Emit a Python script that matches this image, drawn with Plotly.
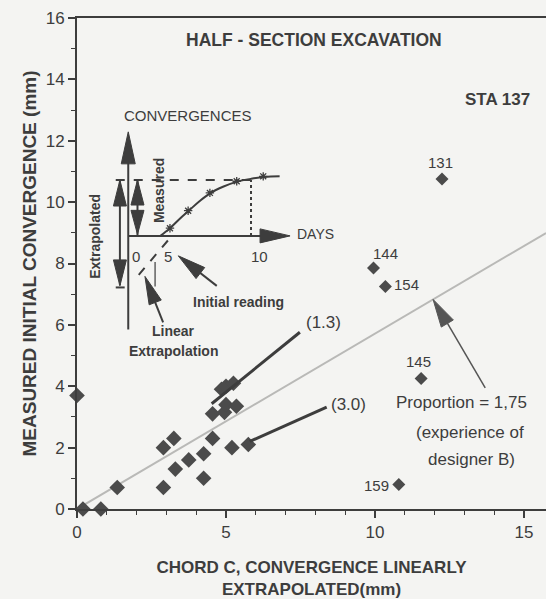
import math
import plotly.graph_objects as go

# Chord C: convergence linearly extrapolated (mm) vs measured initial convergence (mm)
chord_mm = [0.0, 0.2, 0.8, 1.35, 2.9, 2.9, 3.25, 3.3, 3.75, 4.25, 4.25,
            4.55, 4.55, 4.85, 5.0, 5.25, 4.95, 5.0, 5.35, 5.2, 5.75]
measured_mm = [3.7, 0.0, 0.0, 0.7, 0.7, 2.0, 2.3, 1.3, 1.6, 1.8, 1.0,
               2.3, 3.1, 3.9, 4.0, 4.1, 3.15, 3.4, 3.35, 2.0, 2.1]

# Individually labelled stations
station_chord = [12.25, 9.95, 10.35, 11.55, 10.8]
station_measured = [10.75, 7.85, 7.25, 4.25, 0.8]
station_names = ["131", "144", "154", "145", "159"]

proportion = 1.75

# Convergence-vs-time sketch, expressed in the main axes' units
sketch_curve_x = [2.8, 3.1, 3.45, 3.75, 4.1, 4.45, 4.9, 5.35, 5.85, 6.3, 6.8]
sketch_curve_y = [8.9, 9.13, 9.46, 9.72, 10.02, 10.28, 10.5, 10.66, 10.76, 10.82, 10.84]
sketch_marks_x = [3.12, 3.73, 4.46, 5.36, 6.25]
sketch_marks_y = [9.15, 9.72, 10.3, 10.68, 10.84]
sketch_day_labels = ["0", "5", "10"]
sketch_day_x = [1.98, 3.06, 6.14]

W, H = 546, 599
ML, MR, MT, MB = 77, 0, 18, 90
X_MAX, Y_MAX = 15.74, 16.0
PX_X = (W - ML - MR) / X_MAX
PX_Y = (H - MT - MB) / Y_MAX

INK = "#3d3d3d"
BG = "#f4f4f2"
FONT = "Liberation Sans, Arial, sans-serif"

fig = go.Figure()

# reference proportion line
fig.add_trace(go.Scatter(
    x=[0, X_MAX], y=[0, X_MAX / proportion], mode="lines",
    line=dict(color="#b9b9b7", width=2), hoverinfo="skip", showlegend=False))

fig.add_trace(go.Scatter(
    x=chord_mm, y=measured_mm, mode="markers", cliponaxis=False,
    marker=dict(symbol="diamond", size=12, color="#4b4b4b"),
    showlegend=False))

fig.add_trace(go.Scatter(
    x=station_chord, y=station_measured, mode="markers", cliponaxis=False,
    marker=dict(symbol="diamond", size=10, color="#4b4b4b"),
    showlegend=False))

# sketch curve
fig.add_trace(go.Scatter(
    x=sketch_curve_x, y=sketch_curve_y, mode="lines",
    line=dict(color=INK, width=2, shape="spline"), hoverinfo="skip", showlegend=False))
fig.add_trace(go.Scatter(
    x=sketch_marks_x, y=sketch_marks_y, mode="markers",
    marker=dict(symbol="asterisk-open", size=7, color=INK, line=dict(width=1.3, color=INK)),
    hoverinfo="skip", showlegend=False))

shapes = []


def seg(x0, y0, x1, y1, width=2, dash=None, color=INK):
    shapes.append(dict(type="line", xref="x", yref="y", x0=x0, y0=y0, x1=x1, y1=y1,
                       line=dict(color=color, width=width, dash=dash)))


def head(tip, tail, length=26, width=12, color=INK):
    """Filled arrowhead whose point is at `tip`, oriented away from `tail`."""
    dx = (tail[0] - tip[0]) * PX_X
    dy = (tail[1] - tip[1]) * PX_Y
    n = math.hypot(dx, dy)
    ux, uy = dx / n, dy / n
    bx, by = ux * length, uy * length
    px, py = -uy * width / 2, ux * width / 2
    pts = [(0, 0), (bx + px, by + py), (bx - px, by - py)]
    coords = [(tip[0] + a / PX_X, tip[1] + b / PX_Y) for a, b in pts]
    path = "M " + " L ".join(f"{x:.4f},{y:.4f}" for x, y in coords) + " Z"
    shapes.append(dict(type="path", xref="x", yref="y", path=path,
                       fillcolor=color, line=dict(color=color, width=1)))


# sketch axes
AX_X, AX_Y = 1.72, 8.9
seg(AX_X, 5.85, AX_X, 12.0, width=2)
head((AX_X, 12.29), (AX_X, 5.85), length=32, width=14)
seg(AX_X, AX_Y, 6.9, AX_Y, width=2)
head((7.15, AX_Y), (AX_X, AX_Y), length=30, width=14)

# extrapolated / measured double arrows
TOP = 10.72
seg(1.3, TOP, 5.84, TOP, width=2, dash="dash")
seg(5.84, AX_Y, 5.84, TOP, width=2, dash="dot")
seg(1.44, 7.3, 1.44, TOP, width=2)
head((1.44, TOP), (1.44, 7.27), length=26, width=13)
head((1.44, 7.27), (1.44, TOP), length=26, width=13)
seg(1.3, 7.22, 1.6, 7.22, width=2)
seg(2.03, AX_Y, 2.03, TOP, width=2)
head((2.03, TOP), (2.03, AX_Y), length=25, width=13)
head((2.03, AX_Y + 0.05), (2.03, TOP), length=24, width=13)

# linear extrapolation back to day 0
seg(3.05, 8.75, 2.0, 7.55, width=2, dash="dash")
seg(2.62, 7.25, 2.62, 8.05, width=1.2)

# pointers
seg(4.69, 7.27, 3.6, 8.1, width=2)
head((3.4, 8.25), (4.69, 7.27), length=28, width=14)
seg(2.89, 6.08, 2.35, 7.4, width=2)
head((2.28, 7.58), (2.89, 6.08), length=28, width=13)
seg(13.7, 3.95, 12.1, 6.6, width=1.5, color="#555555")
head((11.95, 6.83), (13.7, 3.95), length=28, width=14, color="#555555")

# leaders to the (1.3) and (3.0) groups
seg(4.52, 3.43, 7.48, 5.76, width=3)
seg(5.8, 2.2, 8.38, 3.32, width=3)

annotations = []


def label(text, x, y, size=16, bold=False, angle=0, xanchor="center", yanchor="middle"):
    if bold:
        text = f"<b>{text}</b>"
    annotations.append(dict(text=text, x=x, y=y, xref="x", yref="y", showarrow=False,
                            textangle=angle, xanchor=xanchor, yanchor=yanchor,
                            font=dict(family=FONT, size=size, color=INK)))


label("HALF - SECTION EXCAVATION", 7.94, 15.27, size=17.5, bold=True)
label("STA 137", 14.1, 13.33, size=17, bold=True)
label("CONVERGENCES", 3.72, 12.82, size=15)
label("DAYS", 7.33, 8.95, size=14, xanchor="left")
for t, x in zip(sketch_day_labels, sketch_day_x):
    label(t, x, 8.24, size=15)
label("Extrapolated", 0.6, 8.9, size=14, bold=True, angle=-90)
label("Measured", 2.73, 10.37, size=14, bold=True, angle=-90)
label("Initial reading", 5.41, 6.74, size=14, bold=True)
label("Linear", 3.23, 5.8, size=14, bold=True)
label("Extrapolation", 3.23, 5.14, size=14, bold=True)
label("(1.3)", 8.26, 6.08, size=17)
label("(3.0)", 9.1, 3.4, size=17)
label("Proportion = 1,75", 12.9, 3.46, size=17)
label("(experience of", 13.2, 2.49, size=17)
label("designer B)", 13.25, 1.6, size=17)

label(station_names[0], 12.2, 11.3, size=15)
label(station_names[1], 10.37, 8.33, size=15)
label(station_names[2], 10.58, 7.3, size=15, xanchor="left")
label(station_names[3], 11.45, 4.81, size=15)
label(station_names[4], 10.55, 0.77, size=15, xanchor="right")

axis_common = dict(
    showgrid=False, zeroline=False, showline=True, linecolor=INK, linewidth=2,
    ticks="outside", ticklen=7, tickwidth=1.5, tickcolor=INK,
    tickfont=dict(family=FONT, size=17, color=INK),
    minor=dict(ticks="outside", ticklen=4, tickwidth=1, tickcolor=INK, dtick=1),
)

fig.update_layout(
    width=W, height=H,
    margin=dict(l=ML, r=MR, t=MT, b=MB),
    paper_bgcolor=BG, plot_bgcolor=BG,
    shapes=shapes, annotations=annotations,
    xaxis=dict(range=[0, X_MAX], tickvals=[0, 5, 10, 15], mirror=True,
               title=dict(text="<b>CHORD C, CONVERGENCE LINEARLY<br>EXTRAPOLATED(mm)</b>",
                          font=dict(family=FONT, size=17, color=INK), standoff=20),
               **axis_common),
    yaxis=dict(range=[0, Y_MAX], tickvals=list(range(0, 17, 2)),
               title=dict(text="<b>MEASURED INITIAL CONVERGENCE (mm)</b>",
                          font=dict(family=FONT, size=19, color=INK), standoff=4),
               **axis_common),
)

fig.write_html("out.html")
